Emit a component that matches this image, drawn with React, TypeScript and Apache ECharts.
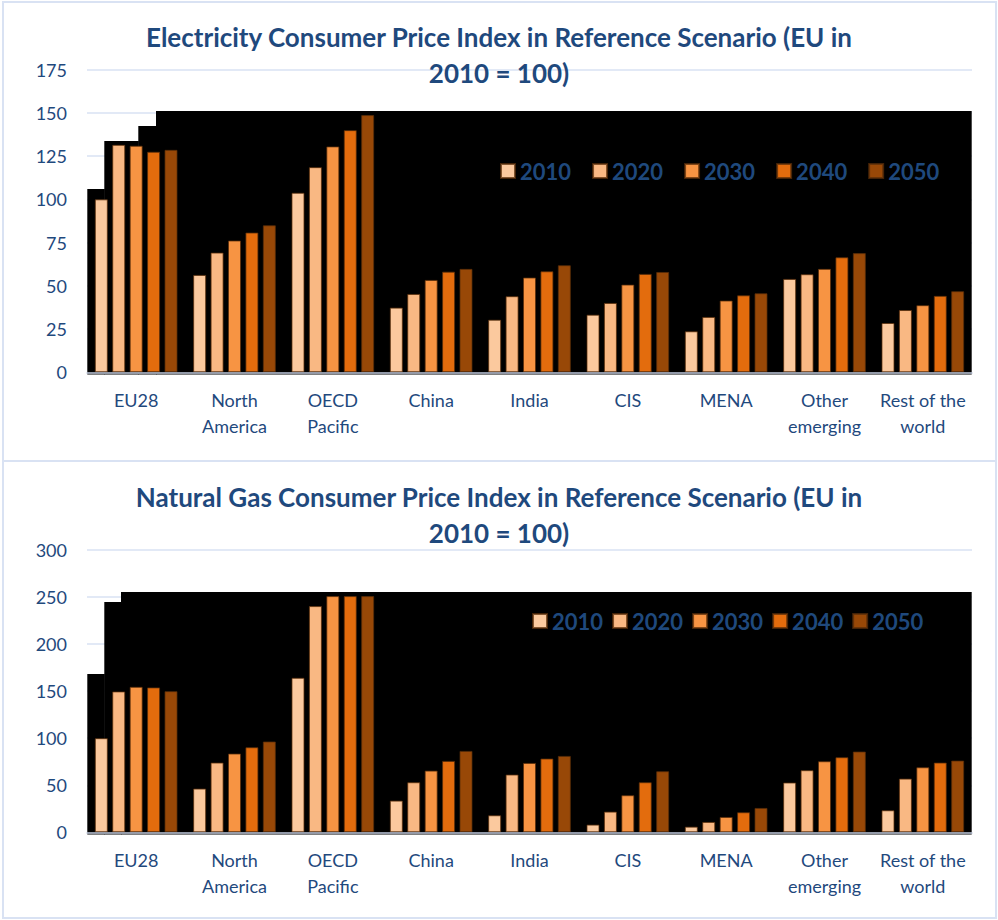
import React, { useEffect, useRef } from "react";
import * as echarts from "echarts";

const categories = ["EU28", "North\nAmerica", "OECD\nPacific", "China", "India", "CIS", "MENA", "Other\nemerging", "Rest of the\nworld"];
const years = ["2010", "2020", "2030", "2040", "2050"];
const colors = ["#fbc99e", "#f9b883", "#f79443", "#e36c0d", "#984807"];

// Electricity consumer price index (EU in 2010 = 100)
const elec2010 = [100, 56.3, 103.8, 37.4, 30.4, 33.3, 23.7, 54, 28.5];
const elec2020 = [131.5, 69.2, 118.6, 45.3, 44, 40.1, 32, 56.7, 36];
const elec2030 = [131, 76.2, 130.6, 53.4, 54.8, 50.7, 41.5, 59.8, 38.8];
const elec2040 = [127.5, 80.8, 140, 58.2, 58.4, 56.9, 44.5, 66.5, 44.2];
const elec2050 = [128.6, 85, 148.7, 59.8, 61.9, 58, 45.7, 68.9, 46.9];

// Natural gas consumer price index (EU in 2010 = 100)
const gas2010 = [100, 46.5, 164.2, 33.7, 18.1, 8.2, 6, 52.9, 23.4];
const gas2020 = [149.7, 74.1, 240.4, 53.2, 61.4, 22, 11, 66, 57.1];
const gas2030 = [154.6, 83.7, 251, 65.6, 73.7, 39.4, 16.3, 75.5, 69.1];
const gas2040 = [154, 90.4, 251, 75.9, 78.4, 53.2, 21.3, 79.8, 74.1];
const gas2050 = [150, 96.5, 251, 86.5, 81.2, 64.9, 25.9, 85.8, 76.2];

const yTicks1 = { min: 0, max: 175, interval: 25 };
const yTicks2 = { min: 0, max: 300, interval: 50 };

const title1 = "Electricity Consumer Price Index in Reference Scenario (EU in\n2010 = 100)";
const title2 = "Natural Gas Consumer Price Index in Reference Scenario (EU in\n2010 = 100)";

const TEXT = "#1F497D";
const FONT = "Lato";

export default function App() {
  const ref = useRef<HTMLDivElement>(null);
  useEffect(() => {
    if (!ref.current) return;
    const chart = echarts.init(ref.current, null, { renderer: "svg" });
    const elec = [elec2010, elec2020, elec2030, elec2040, elec2050];
    const gas = [gas2010, gas2020, gas2030, gas2040, gas2050];

    const mkSeries = (arrs: number[][], idx: number) =>
      arrs.map((d, i) => ({
        name: years[i],
        type: "bar",
        xAxisIndex: idx,
        yAxisIndex: idx,
        data: d,
        barWidth: 13,
        barGap: "34%",
        z: 3,
        itemStyle: { color: colors[i], borderColor: "rgba(90,45,10,0.75)", borderWidth: 1 },
      }));

    const grids = [
      { left: 87, right: 26, top: 69.6, height: 302.7 },
      { left: 87, right: 26, top: 550, height: 282.3 },
    ];

    const xAxisBase = (gi: number) => ({
      type: "category",
      gridIndex: gi,
      data: categories,
      z: 5,
      axisTick: { show: false },
      axisLine: { show: true, lineStyle: { color: "#c3cde0", width: 1.5 } },
      axisLabel: { color: TEXT, fontFamily: FONT, fontSize: 18, lineHeight: 26, margin: 15, interval: 0 },
    });
    const yAxisBase = (gi: number, t: any) => ({
      type: "value",
      gridIndex: gi,
      min: t.min,
      max: t.max,
      interval: t.interval,
      axisLine: { show: false },
      axisTick: { show: false },
      axisLabel: { color: TEXT, fontFamily: FONT, fontSize: 18, margin: 20 },
      splitLine: { lineStyle: { color: "#d9e2f3", width: 1.5 } },
    });

    const blackRect = (x: number, y: number, w: number, h: number) => ({
      type: "rect",
      z: 1,
      shape: { x, y, width: w, height: h },
      style: { fill: "#000" },
    });

    const titleStyle = { color: TEXT, fontFamily: FONT, fontSize: 26, fontWeight: "bold", lineHeight: 36 };
    const legendText = { color: TEXT, fontFamily: FONT, fontSize: 22, fontWeight: "bold" };

    chart.setOption({
      animation: false,
      backgroundColor: "#fff",
      title: [
        { text: title1, left: "center", top: 19, padding: 0, textStyle: titleStyle },
        { text: title2, left: "center", top: 479, padding: 0, textStyle: titleStyle },
      ],
      legend: [
        {
          data: years,
          left: 500,
          top: 160,
          padding: 0,
          itemWidth: 14,
          itemHeight: 14,
          itemGap: 21,
          icon: "rect",
          textStyle: legendText,
        },
        {
          data: years,
          left: 532,
          top: 610,
          padding: 0,
          itemWidth: 14,
          itemHeight: 14,
          itemGap: 9,
          icon: "rect",
          textStyle: legendText,
        },
      ],
      grid: grids,
      xAxis: [xAxisBase(0), xAxisBase(1)],
      yAxis: [yAxisBase(0, yTicks1), yAxisBase(1, yTicks2)],
      series: [...mkSeries(elec, 0), ...mkSeries(gas, 1)],
      graphic: [
        { type: "rect", z: 0, shape: { x: 3, y: 2, width: 993, height: 459 }, style: { fill: "none", stroke: "#d9e2f3", lineWidth: 2 } },
        { type: "rect", z: 0, shape: { x: 3, y: 461, width: 993, height: 457 }, style: { fill: "none", stroke: "#d9e2f3", lineWidth: 2 } },
        blackRect(87.3, 189, 17.5, 185.5),
        blackRect(104.3, 141, 34.5, 233.5),
        blackRect(138.3, 126, 18.2, 248.5),
        blackRect(156, 111, 815.7, 263.5),
        blackRect(87.3, 674, 17.5, 160.5),
        blackRect(104.3, 602, 17.2, 232.5),
        blackRect(121, 592, 850.7, 242.5),
      ],
    });
    return () => chart.dispose();
  }, []);
  return <div ref={ref} style={{ position: "absolute", left: 0, top: 0, width: 998, height: 920 }} />;
}
